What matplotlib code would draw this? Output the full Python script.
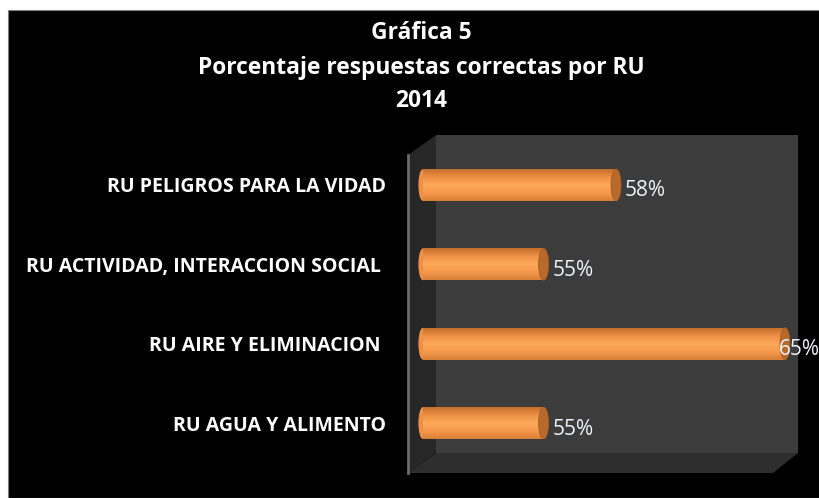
import matplotlib
matplotlib.use('Agg')
import matplotlib.pyplot as plt
import numpy as np
from matplotlib.patches import Polygon, Rectangle, Ellipse
from matplotlib.colors import LinearSegmentedColormap

categories = ['RU AGUA Y ALIMENTO', 'RU AIRE Y ELIMINACION ',
              'RU ACTIVIDAD, INTERACCION SOCIAL ', 'RU PELIGROS PARA LA VIDAD']
values = [55, 65, 55, 58]
value_labels = ['55%', '65%', '55%', '58%']
title_lines = ['Gráfica 5', 'Porcentaje respuestas correctas por RU', '2014']
axis_min = 50

W, H = 820, 498
fig = plt.figure(figsize=(W / 100, H / 100), dpi=100, facecolor='white')


def px(x, y):
    return (x / W, 1 - y / H)


# black chart area
fig.add_artist(Rectangle(px(8, H), (W - 8) / W, (H - 10) / H, transform=fig.transFigure,
                         facecolor='black', edgecolor='#808080', lw=0.8, zorder=-5))

# 3D walls
back = [(436, 135), (798, 135), (798, 453), (436, 453)]
floor = [(408, 473), (436, 453), (798, 453), (773, 473)]
left = [(408, 155), (436, 135), (436, 453), (408, 473)]
for poly, col in [(back, '#3c3c3c'), (floor, '#2e2e2e'), (left, '#272727')]:
    fig.add_artist(Polygon([px(*p) for p in poly], closed=True, transform=fig.transFigure,
                           facecolor=col, edgecolor='none', zorder=-4))
fig.add_artist(plt.Line2D([408 / W, 408 / W], [1 - 155 / H, 1 - 473 / H], transform=fig.transFigure,
                          color='#6a6a6a', lw=2, zorder=-3))

ax = fig.add_axes([408 / W, (H - 473) / H, 390 / W, 338 / H])
ax.set_zorder(2)
ax.patch.set_visible(False)
for s in ax.spines.values():
    s.set_visible(False)
ax.set_xticks([])

h = 0.40
xlo, xhi = 49.383, 65.539
xscale = 390 / (xhi - xlo)  # px per unit
cmap = LinearSegmentedColormap.from_list('cyl', ['#c4702c', '#ee9045', '#fda85a', '#f6994b', '#d88038'])
grad = np.linspace(0, 1, 64).reshape(-1, 1)

ypos = np.arange(len(values))
bars = ax.barh(ypos, np.array(values) - axis_min, left=axis_min, height=h, color='#f29447', zorder=3)
for i, (v, b) in enumerate(zip(values, bars)):
    ax.add_patch(Ellipse((axis_min, i), width=9 / xscale, height=h, facecolor='#ee9045',
                         edgecolor='none', zorder=2.9))
    im = ax.imshow(grad, cmap=cmap, aspect='auto', origin='upper',
                   extent=(axis_min, v, i - h / 2, i + h / 2), zorder=3.1)
    im.set_clip_path(b)
    ax.add_patch(Ellipse((v, i), width=10 / xscale, height=h, facecolor='#b8692c',
                         edgecolor='#a65e27', lw=0.6, zorder=3.2))
ax.set_xlim(xlo, xhi)
ax.set_ylim(-0.63, 3.63)

ax.set_yticks(ypos)
ax.set_yticklabels(categories, fontsize=14, fontweight='bold', color='white', family='Open Sans')
ax.tick_params(axis='y', length=0, pad=22 * 0.72)

off = (9 * 0.72, -6 * 0.72)
texts = []
for i, (v, lbl) in enumerate(zip(values, value_labels)):
    t = ax.annotate(lbl, (v, i), xytext=off, textcoords='offset points',
                    va='center', ha='left', fontsize=15, color='#eef3fb', family='Open Sans', zorder=5)
    texts.append(t)

for k, y in zip(range(len(title_lines)), [33, 68, 101]):
    fig.text(421 / W, 1 - y / H, title_lines[k], ha='center', va='center', fontsize=16.4,
             fontweight='bold', color='white', family='Open Sans')

fig.canvas.draw()
r = fig.canvas.get_renderer()
for t in texts:
    bb = t.get_window_extent(r)
    if bb.x1 > W:
        t.set_position((off[0] - (bb.x1 - W) / 100 * 72, off[1]))

fig.savefig('out.png', dpi=100, facecolor=fig.get_facecolor())
